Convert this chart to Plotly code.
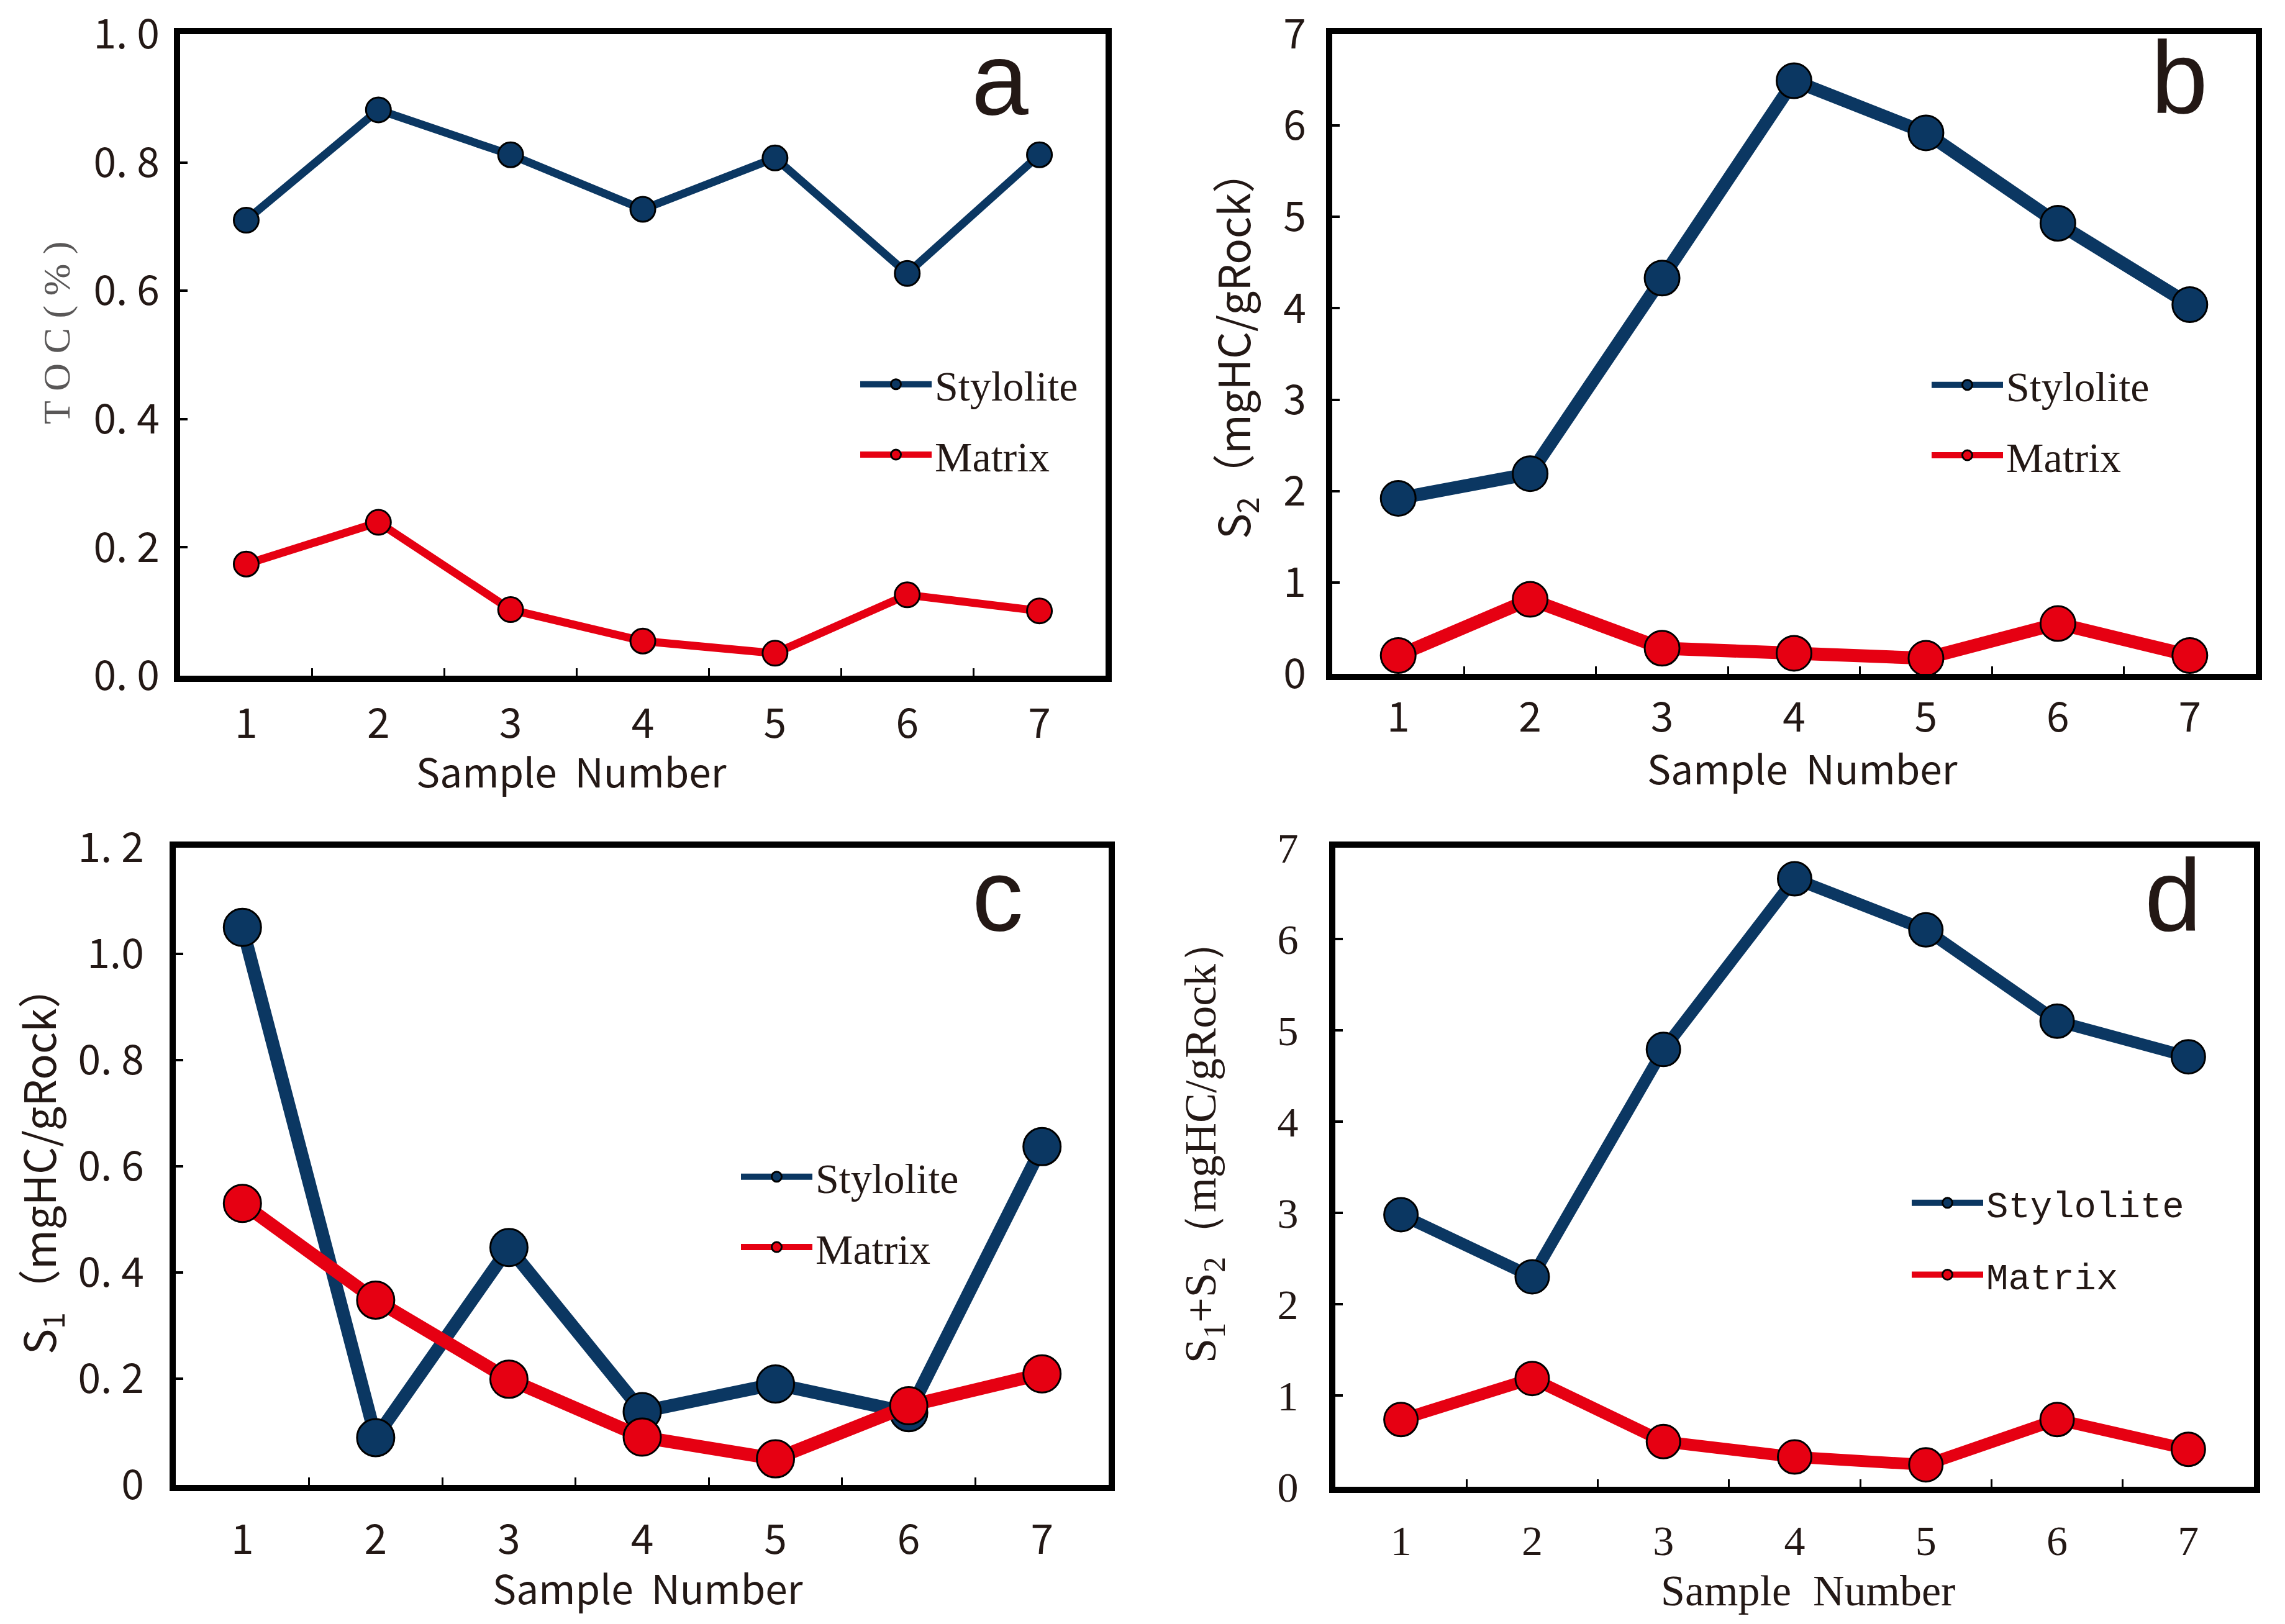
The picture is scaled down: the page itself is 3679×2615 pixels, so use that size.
import plotly.graph_objects as go

# ---------------- data ----------------
samples = ["1", "2", "3", "4", "5", "6", "7"]

toc_stylolite = [0.710, 0.882, 0.812, 0.727, 0.807, 0.627, 0.812]
toc_matrix = [0.174, 0.239, 0.103, 0.054, 0.035, 0.126, 0.101]

s2_stylolite = [1.92, 2.19, 4.33, 6.49, 5.92, 4.93, 4.04]
s2_matrix = [0.20, 0.815, 0.28, 0.225, 0.17, 0.55, 0.20]

s1_stylolite = [1.05, 0.089, 0.447, 0.138, 0.19, 0.136, 0.637]
s1_matrix = [0.53, 0.348, 0.199, 0.09, 0.049, 0.149, 0.209]

s1s2_stylolite = [2.98, 2.30, 4.79, 6.66, 6.10, 5.10, 4.71]
s1s2_matrix = [0.736, 1.186, 0.495, 0.326, 0.24, 0.736, 0.41]

yticks_a = [0, 0.2, 0.4, 0.6, 0.8, 1.0]
ylabels_a = ["0. 0", "0. 2", "0. 4", "0. 6", "0. 8", "1. 0"]
yticks_b = [0, 1, 2, 3, 4, 5, 6, 7]
ylabels_b = ["0", "1", "2", "3", "4", "5", "6", "7"]
yticks_c = [0, 0.2, 0.4, 0.6, 0.8, 1.0, 1.2]
ylabels_c = ["0", "0. 2", "0. 4", "0. 6", "0. 8", "1.0", "1. 2"]
yticks_d = [0, 1, 2, 3, 4, 5, 6, 7]
ylabels_d = ["0", "1", "2", "3", "4", "5", "6", "7"]

series_names = ["Stylolite", "Matrix"]

# ---------------- style ----------------
W, H = 3679, 2615
NAVY = "#0B3762"
RED = "#E60012"
INK = "#231815"
SANS = "Noto Sans CJK SC"
SERIF = "Liberation Serif"
MONO = "Liberation Mono"


def xdom(l, r):
    return [l / W, r / W]


def ydom(t, b):
    return [1 - b / H, 1 - t / H]


panels = [
    dict(xd=(290, 1780), yd=(55, 1088)),
    dict(xd=(2145, 3632), yd=(55, 1085)),
    dict(xd=(283, 1785), yd=(1365, 2391)),
    dict(xd=(2150, 3629), yd=(1365, 2394)),
]

data_sets = [
    (toc_stylolite, toc_matrix, 40, 13),
    (s2_stylolite, s2_matrix, 56, 21),
    (s1_stylolite, s1_matrix, 60, 21),
    (s1s2_stylolite, s1s2_matrix, 54, 19),
]

fig = go.Figure()

legend_ids = ["legend", "legend2", "legend3", "legend4"]

for i, (sty, mat, msize, lw) in enumerate(data_sets):
    xa = "x" if i == 0 else f"x{i+1}"
    ya = "y" if i == 0 else f"y{i+1}"
    for name, vals, col in ((series_names[0], sty, NAVY), (series_names[1], mat, RED)):
        fig.add_trace(go.Scatter(
            x=samples, y=vals, name=name, xaxis=xa, yaxis=ya,
            mode="lines+markers",
            line=dict(color=col, width=lw),
            marker=dict(color=col, size=msize, line=dict(color="black", width=3)),
            legend=legend_ids[i], legendgroup=f"{i}-{name}",
            cliponaxis=False,
        ))

layout = dict(
    template="none",
    width=W, height=H,
    margin=dict(l=0, r=0, t=0, b=0, autoexpand=False),
    paper_bgcolor="white", plot_bgcolor="white",
    showlegend=True,
)

ytick_sets = [(yticks_a, ylabels_a, [0, 1.0]), (yticks_b, ylabels_b, [0, 7]),
              (yticks_c, ylabels_c, [0, 1.2]), (yticks_d, ylabels_d, [0, 7])]
tick_fonts = [(SANS, 66), (SANS, 66), (SANS, 66), (SERIF, 68)]
ystand = [10, 19, 28, 36]
xstand = [11, 4, 22, 18]

for i, p in enumerate(panels):
    sx = "" if i == 0 else str(i + 1)
    tv, tt, rng = ytick_sets[i]
    fam, fsz = tick_fonts[i]
    layout["xaxis" + sx] = dict(
        domain=xdom(*p["xd"]), anchor="y" + sx, type="category",
        range=[-0.5, 6.5], tickson="boundaries", ticks="inside",
        ticklen=12, tickwidth=3, tickcolor="black",
        showline=True, linewidth=10, linecolor="black", mirror=True,
        showgrid=False, zeroline=False, automargin=False,
        tickfont=dict(family=fam, size=fsz, color=INK),
        ticklabelstandoff=xstand[i],
    )
    layout["yaxis" + sx] = dict(
        domain=ydom(*p["yd"]), anchor="x" + sx, range=rng,
        tickmode="array", tickvals=tv, ticktext=tt,
        ticks="inside", ticklen=12, tickwidth=4, tickcolor="black",
        showline=True, linewidth=10, linecolor="black", mirror=True,
        showgrid=False, zeroline=False, automargin=False,
        tickfont=dict(family=fam, size=fsz, color=INK),
        ticklabelstandoff=ystand[i],
    )

leg_pos = [(1380, 568), (3105, 569), (1188, 1844), (3073, 1892)]
leg_fonts = [(SERIF, 68), (SERIF, 68), (SERIF, 68), (MONO, 59)]
leg_gaps = [22, 22, 22, 36]
for i, lid in enumerate(legend_ids):
    lx, ly = leg_pos[i]
    layout[lid] = dict(
        x=lx / W, y=1 - ly / H, xanchor="left", yanchor="top",
        bgcolor="rgba(0,0,0,0)", borderwidth=0,
        font=dict(family=leg_fonts[i][0], size=leg_fonts[i][1], color=INK),
        itemwidth=115, traceorder="grouped", tracegroupgap=leg_gaps[i],
        itemsizing="trace",
    )

fig.update_layout(**layout)

annotations = []
# panel letters
for txt, cx, cy in (("a", 1610, 127), ("b", 3509, 125), ("c", 1606, 1441), ("d", 3499, 1442)):
    annotations.append(dict(text=txt, x=cx / W, y=1 - cy / H, xref="paper", yref="paper",
                            xanchor="center", yanchor="middle", showarrow=False,
                            font=dict(family="Liberation Sans", size=165, color=INK)))
# x titles
for cx, cy, fam, sz in ((920, 1240, SANS, 64), (2902, 1235, SANS, 64),
                        (1043, 2555, SANS, 64), (2911, 2561, SERIF, 70)):
    annotations.append(dict(text="Sample\u00a0\u00a0Number",
                            x=cx / W, y=1 - cy / H, xref="paper", yref="paper",
                            xanchor="center", yanchor="middle", showarrow=False,
                            font=dict(family=fam, size=sz, color=INK)))
# y titles
ytitles = [
    ("T\u00a0O\u00a0C\u00a0(\u00a0%\u00a0)", 92, 536, SERIF, 62, "#595757"),
    ("S<sub>2</sub>\uff08mgHC/gRock\uff09", 1987, 555, SANS, 69, INK),
    ("S<sub>1</sub>\uff08mgHC/gRock\uff09", 64, 1868, SANS, 69, INK),
    ("S<sub>1</sub>+S<sub>2</sub>\uff08mgHC/gRock\uff09", 1938, 1838, SERIF, 72, INK),
]
for txt, cx, cy, fam, sz, col in ytitles:
    annotations.append(dict(text=txt, x=cx / W, y=1 - cy / H, xref="paper", yref="paper",
                            xanchor="center", yanchor="middle", showarrow=False, textangle=-90,
                            font=dict(family=fam, size=sz, color=col)))
fig.update_layout(annotations=annotations)

fig.write_html("out.html", config={"displayModeBar": False},
               post_script="document.body.style.margin='0px';")
